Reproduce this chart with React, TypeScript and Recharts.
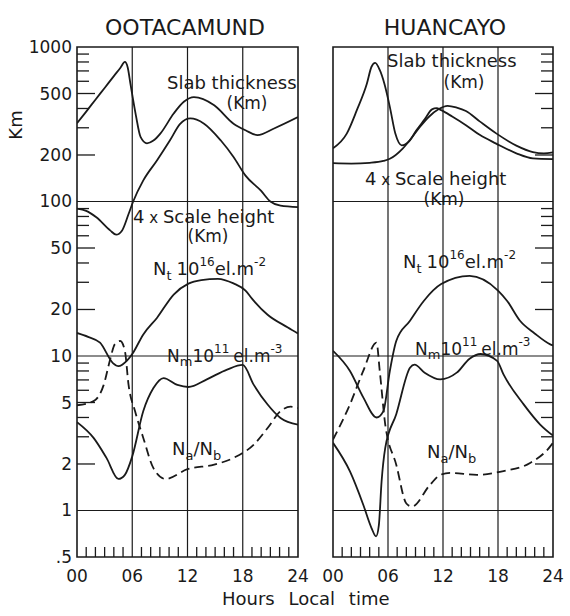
import React from 'react';
import { LineChart, Line, XAxis, YAxis, ReferenceLine, ReferenceArea, Customized } from 'recharts';

// ---------- axis ticks ----------
const hourTicks = [0, 1, 2, 3, 4, 5, 6, 7, 8, 9, 10, 11, 12, 13, 14, 15, 16, 17, 18, 19, 20, 21, 22, 23, 24];
const xLabelHours = [0, 6, 12, 18, 24];
const xLabelTexts = ['00', '06', '12', '18', '24'];
const yTicks = [0.5, 1, 2, 3, 4, 5, 6, 7, 8, 9, 10, 20, 30, 40, 50, 60, 70, 80, 90, 100, 200, 300, 400, 500, 600, 700, 800, 900, 1000];
const yLabelValues = [0.5, 1, 2, 5, 10, 20, 50, 100, 200, 500, 1000];
const yLabelTexts = ['.5', '1', '2', '5', '10', '20', '50', '100', '200', '500', '1000'];
const yMajor = [2, 5, 20, 50, 200, 500];
const yNoTick = [0.5, 1, 10, 100, 1000];
const gridHours = [6, 12, 18];
const gridValues = [1, 10, 100];

// ---------- OOTACAMUND ----------
const ootSlabHours = [0, 1, 2, 3, 4, 4.7, 5.2, 5.5, 5.8, 6.1, 6.4, 6.9, 7.6, 8.3, 9.05, 10.5, 11.6, 12.7, 14.9, 17, 18.3, 19.6, 21.4, 24];
const ootSlabValues = [321, 382, 456, 543, 648, 731, 800, 740, 580, 453, 360, 262, 238, 248, 275, 371, 442, 474, 420, 319, 289, 269, 297, 352];
const ootScaleHours = [0, 1, 2.1, 3.6, 4.25, 4.9, 5.6, 6.1, 7.2, 8.7, 10.1, 11.2, 12.3, 13.8, 15.6, 17, 18.3, 20, 21, 22.1, 24];
const ootScaleValues = [90, 87, 79, 65, 61, 65, 83, 100, 137, 185, 249, 318, 345, 319, 249, 194, 147, 117, 100, 94, 92];
const ootNtHours = [0, 1.2, 2.5, 3.9, 4.5, 5.4, 6, 7.2, 8.7, 10.5, 12.1, 13.5, 15.3, 17, 18.3, 19, 20.7, 22.9, 24];
const ootNtValues = [14.1, 13.3, 12.2, 9.0, 8.6, 9.3, 10.3, 13.8, 17.7, 25, 29.4, 31, 31.6, 29.5, 26.5, 23.5, 18.5, 15.3, 14.0];
const ootNmHours = [0, 1.8, 3.2, 4.5, 5.2, 6, 7.2, 8.3, 9.4, 10.9, 12.1, 14.1, 16.3, 18, 19.2, 20.7, 22.1, 24];
const ootNmValues = [3.73, 2.95, 2.19, 1.6, 1.7, 2.24, 4.4, 6.2, 7.2, 6.5, 6.3, 7.06, 8.17, 8.75, 6.5, 4.85, 3.97, 3.6];
const ootRatioHours = [0, 1.8, 2.9, 3.6, 4.1, 4.7, 5.2, 5.6, 6.3, 7.2, 8.3, 9.6, 12, 14.9, 17, 19.2, 20.7, 22.1, 23.2, 24];
const ootRatioValues = [4.8, 5.1, 6.5, 9.5, 11.9, 12.5, 10.8, 6.5, 4.4, 2.95, 1.88, 1.6, 1.85, 1.98, 2.19, 2.67, 3.42, 4.4, 4.7, 4.6];

// ---------- HUANCAYO ----------
const hucSlabHours = [0, 1.5, 2.6, 3.7, 4.2, 4.6, 5.1, 5.6, 6.2, 6.8, 7.5, 8.3, 9.1, 10, 10.8, 11.3, 11.8, 13, 14.5, 16, 17.8, 20, 21.8, 24];
const hucSlabValues = [221, 275, 390, 580, 745, 790, 710, 580, 410, 275, 231, 245, 289, 340, 395, 402, 390, 355, 312, 270, 237, 205, 190, 188];
const hucScaleHours = [0, 2, 4, 5.5, 6.2, 7.6, 8.5, 9.5, 10.5, 11.5, 12.5, 13.5, 14.5, 16, 17.8, 20, 21.8, 23, 24];
const hucScaleValues = [177, 176, 178, 183, 189, 220, 255, 305, 355, 395, 416, 405, 385, 330, 276, 230, 209, 205, 208];
const hucNtHours = [0, 1.85, 3.3, 4.75, 5.5, 6.2, 6.9, 8.4, 9.9, 11.8, 14.9, 18, 19, 20.4, 22, 23.7, 24];
const hucNtValues = [10.8, 8, 5.4, 4.0, 4.4, 8, 12.5, 16.9, 22.7, 29.2, 33, 26.5, 22.7, 16.9, 14, 11.9, 11.7];
const hucNmHours = [0, 1.85, 3.3, 4.2, 4.7, 5.0, 5.3, 5.7, 6.9, 8.4, 8.9, 10, 11.7, 13.5, 14.9, 16.1, 17.9, 18.6, 20.8, 22.6, 24];
const hucNmValues = [2.74, 1.79, 1.09, 0.77, 0.68, 0.8, 1.54, 2.54, 4.2, 8.4, 8.8, 7.8, 7.06, 7.8, 9.6, 10.3, 9.3, 7.6, 4.86, 3.6, 3.05];
const hucRatioHours = [0, 1.85, 3.3, 4.75, 5.1, 5.7, 6.9, 8, 8.6, 10.6, 11.7, 12.8, 15.7, 18.6, 21.5, 23.7, 24];
const hucRatioValues = [2.88, 4.86, 8, 12.2, 8, 3.6, 1.98, 1.11, 1.06, 1.47, 1.7, 1.75, 1.7, 1.8, 2.03, 2.6, 2.75];

const toData = (hours: number[], values: number[]) => hours.map((h, i) => ({ h, v: values[i] }));

const INK = '#1a1a1a';
const FONT = '"DejaVu Sans", sans-serif';

const tickLen = (v: number) => (yNoTick.includes(v) ? 0 : yMajor.includes(v) ? 18 : 12);

const LeftYTick = (p: any) => {
  const v = p.payload.value;
  const len = tickLen(v);
  const idx = yLabelValues.indexOf(v);
  return (
    <g>
      {len > 0 && <line x1={p.x} x2={p.x + len} y1={p.y} y2={p.y} stroke={INK} strokeWidth={1.3} />}
      {idx >= 0 && (
        <text x={p.x - 5} y={p.y + 6} textAnchor="end" fontSize={17} fontFamily={FONT} fill={INK}>
          {yLabelTexts[idx]}
        </text>
      )}
    </g>
  );
};

const RightYTick = (p: any) => {
  const v = p.payload.value;
  const len = tickLen(v);
  return <g>{len > 0 && <line x1={p.x} x2={p.x - len} y1={p.y} y2={p.y} stroke={INK} strokeWidth={1.3} />}</g>;
};

const XTick = (p: any) => {
  const v = p.payload.value;
  const idx = xLabelHours.indexOf(v);
  return (
    <g>
      {idx < 0 && <line x1={p.x} x2={p.x} y1={p.y} y2={p.y - 10} stroke={INK} strokeWidth={1.3} />}
      {idx >= 0 && (
        <text x={p.x} y={p.y + 25} textAnchor="middle" fontSize={17} fontFamily={FONT} fill={INK}>
          {xLabelTexts[idx]}
        </text>
      )}
    </g>
  );
};

const Bg = ({ x, y, w, h }: { x: number; y: number; w: number; h: number }) => (
  <rect x={x} y={y} width={w} height={h} fill="#fff" />
);

const txt = { fontFamily: FONT, fill: INK } as const;

// annotation blocks (chart-local pixel positions of the text labels)
const LeftLabels = () => (
  <g>
    <Bg x={165} y={74} w={136} h={19} />
    <text x={167} y={89} fontSize={18} {...txt}>Slab thickness</text>
    <Bg x={226} y={95} w={42} h={18} />
    <text x={247} y={109} fontSize={17} textAnchor="middle" {...txt}>(Km)</text>
    <Bg x={131} y={208} w={146} h={19} />
    <text x={133} y={223} fontSize={18} {...txt}>4<tspan fontSize={15}> x </tspan>Scale height</text>
    <Bg x={186} y={228} w={44} h={18} />
    <text x={208} y={242} fontSize={17} textAnchor="middle" {...txt}>(Km)</text>
    <Bg x={151} y={257} w={114} h={19} />
    <text x={153} y={275} fontSize={18} {...txt}>
      N<tspan fontSize={13} dy={5}>t</tspan>
      <tspan dy={-5} dx={5}>10</tspan>
      <tspan fontSize={12} dy={-9}>16</tspan>
      <tspan dy={9}>el.m</tspan>
      <tspan fontSize={12} dy={-9}>-2</tspan>
    </text>
    <Bg x={165} y={340} w={64} h={24} />
    <text x={167} y={362} fontSize={17} {...txt}>
      N<tspan fontSize={13} dy={4}>m</tspan>
      <tspan dy={-4}>10</tspan>
      <tspan fontSize={12} dy={-9}>11</tspan>
      <tspan dy={9} dx={4}>el.m</tspan>
      <tspan fontSize={12} dy={-9}>-3</tspan>
    </text>
    <text x={172} y={455} fontSize={18} {...txt}>
      N<tspan fontSize={13} dy={5}>a</tspan>
      <tspan dy={-5}>/N</tspan>
      <tspan fontSize={13} dy={5}>b</tspan>
    </text>
  </g>
);

const RightLabels = () => (
  <g>
    <Bg x={85} y={50} w={140} h={34} />
    <text x={87} y={67} fontSize={18} {...txt}>Slab thickness</text>
    <text x={164} y={88} fontSize={17} textAnchor="middle" {...txt}>(Km)</text>
    <Bg x={63} y={170} w={158} h={19} />
    <text x={65} y={185} fontSize={18} {...txt}>4<tspan fontSize={15}> x </tspan>Scale height</text>
    <Bg x={118} y={190} w={52} h={19} />
    <text x={144} y={205} fontSize={17} textAnchor="middle" {...txt}>(Km)</text>
    <Bg x={101} y={249} w={120} h={20} />
    <text x={103} y={268} fontSize={18} {...txt}>
      N<tspan fontSize={13} dy={5}>t</tspan>
      <tspan dy={-5} dx={5}>10</tspan>
      <tspan fontSize={12} dy={-9}>16</tspan>
      <tspan dy={9}>el.m</tspan>
      <tspan fontSize={12} dy={-9}>-2</tspan>
    </text>
    <Bg x={112} y={333} w={50} h={24} />
    <text x={115} y={355} fontSize={17} {...txt}>
      N<tspan fontSize={13} dy={4}>m</tspan>
      <tspan dy={-4}>10</tspan>
      <tspan fontSize={12} dy={-9}>11</tspan>
      <tspan dy={9} dx={4}>el.m</tspan>
      <tspan fontSize={12} dy={-9}>-3</tspan>
    </text>
    <text x={127} y={458} fontSize={18} {...txt}>
      N<tspan fontSize={13} dy={5}>a</tspan>
      <tspan dy={-5}>/N</tspan>
      <tspan fontSize={13} dy={5}>b</tspan>
    </text>
  </g>
);

type Series = { hours: number[]; values: number[]; dashed?: boolean };

const ootSeries: Series[] = [
  { hours: ootSlabHours, values: ootSlabValues },
  { hours: ootScaleHours, values: ootScaleValues },
  { hours: ootNtHours, values: ootNtValues },
  { hours: ootNmHours, values: ootNmValues },
  { hours: ootRatioHours, values: ootRatioValues, dashed: true },
];
const hucSeries: Series[] = [
  { hours: hucSlabHours, values: hucSlabValues },
  { hours: hucScaleHours, values: hucScaleValues },
  { hours: hucNtHours, values: hucNtValues },
  { hours: hucNmHours, values: hucNmValues },
  { hours: hucRatioHours, values: hucRatioValues, dashed: true },
];

const Panel = ({ side, series }: { side: 'left' | 'right'; series: Series[] }) => {
  const isLeft = side === 'left';
  return (
    <LineChart
      width={isLeft ? 320 : 270}
      height={616}
      margin={isLeft ? { top: 47, right: 22, left: 0, bottom: 0 } : { top: 47, right: 0, left: 33, bottom: 0 }}
    >
      <XAxis
        type="number"
        dataKey="h"
        domain={[0, 24]}
        ticks={hourTicks}
        interval={0}
        height={59}
        tickSize={0}
        tickMargin={0}
        axisLine={false}
        tickLine={false}
        tick={<XTick />}
        allowDataOverflow
      />
      <YAxis
        type="number"
        orientation={isLeft ? 'left' : 'right'}
        scale="log"
        domain={[0.5, 1000]}
        ticks={yTicks}
        interval={0}
        width={isLeft ? 77 : 17}
        tickSize={0}
        tickMargin={0}
        axisLine={false}
        tickLine={false}
        tick={isLeft ? <LeftYTick /> : <RightYTick />}
        allowDataOverflow
      />
      <ReferenceArea x1={0} x2={24} y1={0.5} y2={1000} fill="none" stroke={INK} strokeWidth={1.6} fillOpacity={0} />
      {gridHours.map((h) => (
        <ReferenceLine key={'x' + h} x={h} stroke={INK} strokeWidth={1.2} />
      ))}
      {gridValues.map((v) => (
        <ReferenceLine key={'y' + v} y={v} stroke={INK} strokeWidth={1.2} />
      ))}
      <Customized component={isLeft ? LeftLabels : RightLabels} />
      {series.map((s, i) => (
        <Line
          key={i}
          data={toData(s.hours, s.values)}
          dataKey="v"
          type="monotone"
          dot={false}
          activeDot={false}
          stroke={INK}
          strokeWidth={1.8}
          strokeDasharray={s.dashed ? '9 5' : undefined}
          isAnimationActive={false}
        />
      ))}
    </LineChart>
  );
};

export default function App() {
  return (
    <div style={{ position: 'absolute', left: 0, top: 0, width: 570, height: 616, background: '#fff' }}>
      <div style={{ position: 'absolute', left: 0, top: 0 }}>
        <Panel side="left" series={ootSeries} />
      </div>
      <div style={{ position: 'absolute', left: 300, top: 0 }}>
        <Panel side="right" series={hucSeries} />
      </div>
      <svg width={570} height={616} style={{ position: 'absolute', left: 0, top: 0, pointerEvents: 'none' }}>
        <text x={185} y={35} fontSize={22} textAnchor="middle" {...txt}>OOTACAMUND</text>
        <text x={445} y={35} fontSize={22} textAnchor="middle" {...txt}>HUANCAYO</text>
        <text x={22} y={125} fontSize={18} textAnchor="middle" transform="rotate(-90 22 125)" {...txt}>Km</text>
        <text x={222} y={605} fontSize={18} style={{ wordSpacing: 8 }} {...txt}>Hours Local time</text>
      </svg>
    </div>
  );
}
